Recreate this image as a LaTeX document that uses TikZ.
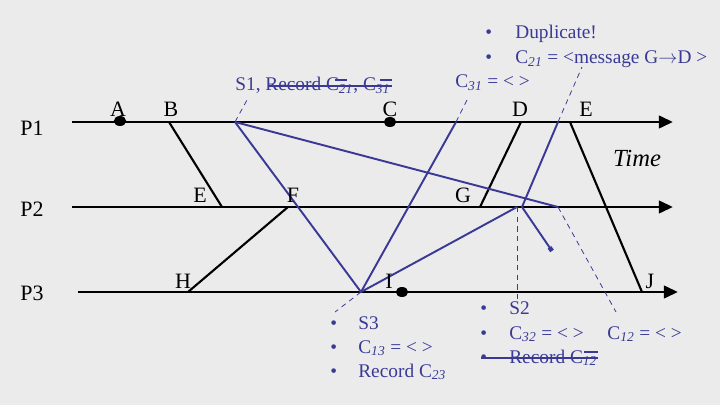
\documentclass[tikz,border=0pt]{standalone}
\usepackage{fontspec}
\setmainfont{Liberation Serif}
\usetikzlibrary{positioning, arrows.meta, shapes.geometric}
\definecolor{snap_blue}{RGB}{58, 58, 150}
\definecolor{slide_bg}{RGB}{235, 235, 235}
\newcommand{\csub}[1]{\textsubscript{\itshape #1}}

\begin{document}
\begin{tikzpicture}[x=0.02cm, y=-0.02cm, font=\fontsize{12.5}{14}\selectfont,
      >={Triangle[length=8pt, width=7pt]},
      proc/.style={line width=1.7pt, ->},
      msg/.style={line width=1.2pt},
      snapmsg/.style={line width=1.1pt, draw=snap_blue},
      ptr/.style={draw=snap_blue, line width=0.45pt, dash pattern=on 3pt off 2.5pt},
      ev/.style={ellipse, fill=black, inner sep=0pt, minimum width=12.5*0.02cm, minimum height=10*0.02cm},
      lbl/.style={inner sep=0pt},
      note/.style={text=snap_blue, font=\fontsize{11}{13}\selectfont, inner sep=0pt, anchor=base west},
      strk/.style={draw=snap_blue, line width=1pt}]
    \fill[slide_bg] (0,0) rectangle (720,405);
    \useasboundingbox (0,0) rectangle (720,405);
    % process lines
    \node[lbl] (p1) at (32,128) {P1};
    \node[lbl] (p2) at (32,209) {P2};
    \node[lbl] (p3) at (32,293) {P3};
    \coordinate (p1s) at (72,122);  \coordinate (p1e) at (673,122);
    \coordinate (p2s) at (72,207);  \coordinate (p2e) at (673,207);
    \coordinate (p3s) at (78,292);  \coordinate (p3e) at (678,292);
    \draw[proc] (p1s) -- (p1e);
    \draw[proc] (p2s) -- (p2e);
    \draw[proc] (p3s) -- (p3e);
    \node[lbl, font=\fontsize{14}{16}\selectfont\itshape] (time) at (637,158) {Time};
    % events
    \coordinate (b)  at (169,122);
    \coordinate (s1) at (235,122);
    \coordinate (c31) at (456,122);
    \coordinate (d)  at (521,122);
    \coordinate (dup) at (558,122);
    \coordinate (e1) at (570,122);
    \coordinate (e2) at (222,207);
    \coordinate (f)  at (288,207);
    \coordinate (g)  at (480,207);
    \coordinate (s2) at (517,207);
    \coordinate (s2b) at (522,207);
    \coordinate (c12) at (558,207);
    \coordinate (h)  at (188,292);
    \coordinate (s3) at (361,292);
    \coordinate (j)  at (642,292);
    \coordinate (lost) at (552,251);
    \draw[msg] (b) -- (e2);
    \draw[msg] (h) -- (f);
    \draw[msg] (d) -- (g);
    \draw[msg] (e1) -- (j);
    % snapshot markers
    \draw[snapmsg] (s1) -- (s3);
    \draw[snapmsg] (s1) -- (c12);
    \draw[snapmsg] (s3) -- (c31);
    \draw[snapmsg] (s3) -- (s2);
    \draw[snapmsg] (s2b) -- (dup);
    \draw[snapmsg, -{Square[length=2.5pt, width=2.5pt]}] (s2b) -- (lost);
    \node[ev] (a) at (120,121) {};
    \node[ev] (c) at (390,122) {};
    \node[ev] (i) at (402,292) {};
    \node[lbl] (la) at (118,109) {A};
    \node[lbl] (lb) at (171,109) {B};
    \node[lbl] (lc) at (390,109) {C};
    \node[lbl] (ld) at (520,109) {D};
    \node[lbl] (le1) at (586,109) {E};
    \node[lbl] (le2) at (200,195) {E};
    \node[lbl] (lf) at (293,195) {F};
    \node[lbl] (lg) at (463,195) {G};
    \node[lbl] (lh) at (183,281) {H};
    \node[lbl] (li) at (389,281) {I};
    \node[lbl] (lj) at (650,281) {J};
    % notes
    \node[note] (n1) at (235,91) {S1, Record C\csub{21}, C\csub{31}};
    \draw[strk] (268,86) -- (392,86);
    \draw[strk, line width=0.6pt] (335,80) -- (347,80) (380,80) -- (392,80);
    \node[note] (dupb) at (485,39) {\textbullet};
    \node[note] (dupt) at (515,39) {Duplicate!};
    \node[note] (c21b) at (485,64) {\textbullet};
    \node[note] (c21t) at (515,64) {C\csub{21} = <message G$\rightarrow$D >};
    \node[note] (c31t) at (455,88) {C\csub{31} = < >};
    \node[note] (s3b1) at (330,329) {\textbullet};
    \node[note] (s3t1) at (358,329) {S3};
    \node[note] (s3b2) at (330,353) {\textbullet};
    \node[note] (s3t2) at (358,353) {C\csub{13} = < >};
    \node[note] (s3b3) at (330,377) {\textbullet};
    \node[note] (s3t3) at (358,377) {Record C\csub{23}};
    \node[note] (s2b1) at (480,315) {\textbullet};
    \node[note] (s2t1) at (509,315) {S2};
    \node[note] (s2b2) at (480,339) {\textbullet};
    \node[note] (s2t2) at (509,339) {C\csub{32} = < >};
    \node[note] (s2b3) at (480,363) {\textbullet};
    \node[note] (s2t3) at (509,363) {Record C\csub{12}};
    \draw[strk] (481,358) -- (598,358);
    \draw[strk, line width=0.6pt] (584,352) -- (598,352);
    \node[note] (c12t) at (607,339) {C\csub{12} = < >};
    % pointers
    \draw[ptr] (s1) -- (247,100);
    \draw[ptr] (c31) -- (467,100);
    \draw[ptr] (dup) -- (582,67);
    \draw[ptr] (s2) -- (517,302);
    \draw[ptr] (c12) -- (616,312);
    \draw[ptr] (s3) -- (335,312);
  \end{tikzpicture}
\end{document}
